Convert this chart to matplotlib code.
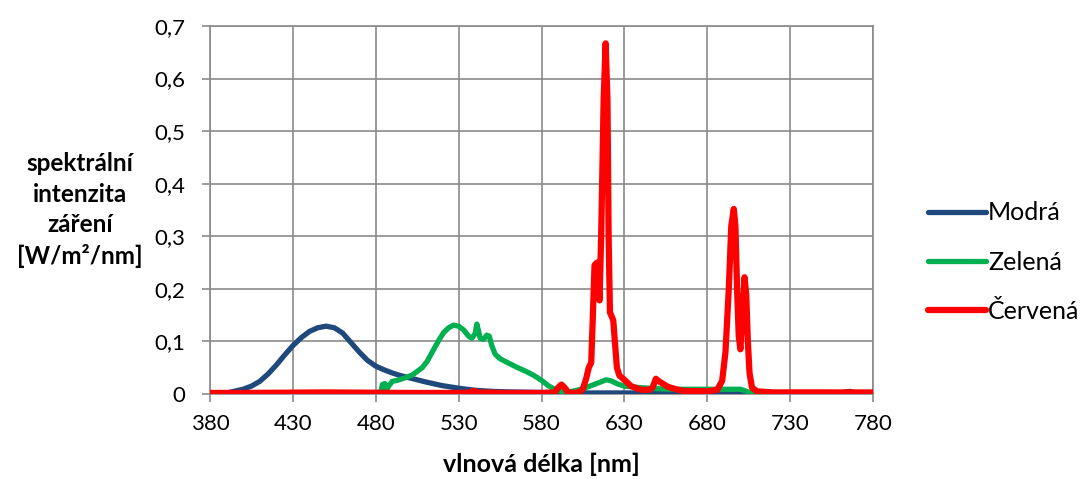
import matplotlib
matplotlib.use("Agg")
import matplotlib.pyplot as plt

# wavelength [nm] / spectral irradiance [W/m2/nm]
blue_wl = [380, 390, 400, 405, 410, 415, 420, 425, 430, 435, 440, 445, 450, 455,
           460, 465, 470, 475, 480, 485, 490, 495, 500, 510, 520, 530, 540, 550,
           560, 580, 600, 650, 700, 760, 766, 770, 780]
blue_val = [0.000, 0.002, 0.009, 0.015, 0.024, 0.038, 0.055, 0.074, 0.092, 0.107,
            0.119, 0.126, 0.129, 0.126, 0.116, 0.098, 0.080, 0.064, 0.053, 0.046,
            0.040, 0.035, 0.031, 0.023, 0.016, 0.011, 0.007, 0.005, 0.004, 0.003,
            0.002, 0.002, 0.002, 0.002, 0.005, 0.002, 0.002]

green_wl = [380, 450, 483, 484, 485.5, 486.5, 488, 490, 493, 497, 502, 508, 511,
            515, 518, 521, 524, 527, 530, 533, 536, 538, 540, 541, 542, 543, 545,
            547, 548.5, 550, 552, 555, 560, 565, 570, 575, 580, 584, 588, 592, 596,
            600, 605, 610, 615, 619, 622, 626, 630, 640, 650, 660, 670, 680, 690,
            700, 703, 706, 710, 780]
green_val = [0.001, 0.001, 0.003, 0.018, 0.020, 0.008, 0.016, 0.024, 0.026, 0.030,
             0.036, 0.050, 0.062, 0.085, 0.102, 0.117, 0.126, 0.131, 0.129, 0.122,
             0.110, 0.106, 0.115, 0.133, 0.120, 0.106, 0.104, 0.112, 0.110, 0.092,
             0.076, 0.067, 0.059, 0.051, 0.044, 0.036, 0.026, 0.016, 0.009, 0.005,
             0.004, 0.006, 0.010, 0.016, 0.022, 0.027, 0.025, 0.019, 0.015, 0.012,
             0.010, 0.009, 0.009, 0.009, 0.009, 0.009, 0.006, 0.002, 0.001, 0.001]

red_wl = [380, 400, 450, 500, 530, 537, 539, 541, 560, 580, 588, 590, 592, 594, 596,
          600, 603, 605, 607, 608.5, 610, 611, 612, 613.5, 615, 616, 617.5, 618.7,
          619.8, 620.5, 621.3, 622.3, 623.3, 624.5, 625.5, 627, 630, 634, 640, 645,
          647, 649, 651, 653, 656, 660, 665, 680, 686, 689, 691, 693, 694.5, 696,
          697, 698, 699, 700, 701, 702.5, 703.5, 704.5, 705.5, 707, 710, 720, 780]
red_val = [0.002, 0.002, 0.003, 0.002, 0.002, 0.003, 0.006, 0.003, 0.002, 0.002,
           0.003, 0.012, 0.018, 0.012, 0.003, 0.002, 0.004, 0.010, 0.030, 0.050,
           0.060, 0.150, 0.245, 0.250, 0.178, 0.300, 0.560, 0.667, 0.560, 0.300,
           0.155, 0.148, 0.140, 0.090, 0.050, 0.035, 0.027, 0.015, 0.008, 0.008,
           0.012, 0.029, 0.024, 0.020, 0.014, 0.010, 0.006, 0.005, 0.008, 0.025,
           0.080, 0.200, 0.320, 0.352, 0.320, 0.200, 0.110, 0.085, 0.140, 0.222,
           0.190, 0.100, 0.040, 0.012, 0.005, 0.003, 0.003]

series_names = ["Modrá", "Zelená", "Červená"]
series_colors = ["#1F497D", "#00B050", "#FF0000"]

x_ticks = [380, 430, 480, 530, 580, 630, 680, 730, 780]
y_ticks = [0, 0.1, 0.2, 0.3, 0.4, 0.5, 0.6, 0.7]
y_tick_labels = ["0", "0,1", "0,2", "0,3", "0,4", "0,5", "0,6", "0,7"]

plt.rcParams['font.family'] = ['Lato', 'DejaVu Sans']

fig = plt.figure(figsize=(10.81, 4.79), dpi=100)
ax = fig.add_axes([210 / 1081, 85 / 479, 663 / 1081, 368 / 479])

grid_col = '#8a8a8a'
ax.plot(blue_wl, blue_val, color=series_colors[0], lw=3.8, label=series_names[0],
        solid_capstyle='round', solid_joinstyle='round', zorder=3)
ax.plot(green_wl, green_val, color=series_colors[1], lw=3.8, label=series_names[1],
        solid_capstyle='round', solid_joinstyle='round', zorder=4)
ax.plot(red_wl, red_val, color=series_colors[2], lw=4.5, label=series_names[2],
        solid_capstyle='round', solid_joinstyle='round', zorder=5)

ax.set_xlim(380, 780)
ax.set_ylim(0, 0.7)
ax.set_xticks(x_ticks)
ax.set_yticks(y_ticks)
ax.set_yticklabels(y_tick_labels)
ax.tick_params(labelsize=16, colors=grid_col, labelcolor='black', length=5.5,
               width=1.2, direction='out')
ax.tick_params(axis='y', pad=12)
ax.tick_params(axis='x', pad=9)
ax.grid(True, color=grid_col, lw=1.2)
ax.set_axisbelow(True)
for s in ax.spines.values():
    s.set_color(grid_col)
    s.set_linewidth(1.2)

ax.set_xlabel('vlnová délka [nm]', fontsize=18, fontweight='bold', labelpad=13)
fig.text(80 / 1081, 1 - 210 / 479, 'spektrální\nintenzita\nzáření\n[W/m²/nm]',
         ha='center', va='center', multialignment='center', fontsize=17.5,
         fontweight='bold', linespacing=1.4)

ax.legend(loc='center left', bbox_to_anchor=(928 / 1081, 1 - 262 / 479),
          bbox_transform=fig.transFigure, frameon=False, fontsize=18,
          handlelength=2.3, handletextpad=0.1, labelspacing=1.05,
          borderpad=0, borderaxespad=0)

fig.savefig('out.png', dpi=100)
